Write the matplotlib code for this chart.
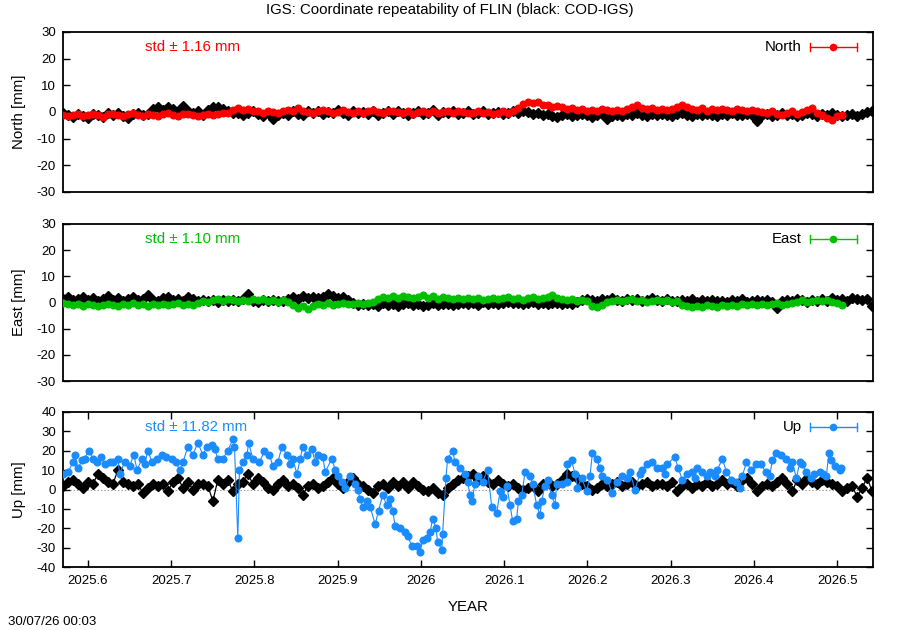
import numpy as np
import matplotlib
matplotlib.use("Agg")
import matplotlib.pyplot as plt

plt.rcParams['font.family'] = ['Liberation Sans', 'DejaVu Sans']

# ---------------- data ----------------
T0 = 2025.570          # first epoch (decimal year)
STEP = 0.006           # sampling of the regular series (years)

north_ref = [-0.5, -1.2, -2.0, -0.8, -1.5, -2.2, -0.6, -1.0, -1.8, -0.3,
             -1.0, -0.5, -1.6, -2.3, -0.8, -0.2, -1.2, -0.6, 1.0, 1.8,
             0.8, 2.0, 1.2, 0.3, 2.2, 0.5, -0.5, 0.2, -1.0, 0.6,
             1.8, 2.0, 1.2, 0.5, -0.5, -0.2, -1.3, -0.5, 0.3, -0.8,
             -1.5, -0.4, -2.8, -1.0, -0.3, -1.2, 0.2, -0.6, -1.0, 0.4,
             -0.3, 0.2, -0.8, 0.0, -0.5, 0.6, -0.2, -1.0, 0.3, -0.4,
             0.0, -0.8, 0.4, -1.0, -0.3, 0.2, -0.6, 0.5, -0.2, -1.2,
             -0.4, 0.3, -0.8, -0.2, 0.6, -1.0, 0.0, -0.5, 0.4, -0.8,
             -0.3, 0.2, -0.6, -0.2, 0.3, -0.8, -0.4, 0.0, -0.7, -0.3,
             0.2, -0.5, 0.4, 0.0, -0.8, -0.3, -1.0, -0.6, -1.4, -2.0,
             -1.2, -0.8, -1.5, -1.0, -0.6, -1.3, -1.8, -1.0, -0.7, -2.5,
             -1.4, -1.0, -1.6, -0.8, -1.2, -0.5, -1.0, -1.5, -0.9, -1.3,
             -0.7, -1.2, -1.6, -0.9, -0.5, -1.1, -1.4, -0.8, -1.2, -0.6,
             -1.0, -1.5, -0.7, -1.1, -0.4, -1.0, -1.3, -0.6, -1.1, -3.2,
             -1.2, -0.8, -1.5, -1.0, -0.5, -1.3, -0.8, -1.6, -1.0, -0.4,
             -0.9, -1.4, -0.6, -1.2, -0.5, -1.0, -1.6, -1.2, -0.8, -1.4,
             -0.6, 0.0, 0.5]

north_val = [-1.0, -1.6, -1.3, -0.8, -1.5, -1.1, -0.6, -1.2, -1.7, -0.9,
             -0.6, -1.1, -1.5, -0.8, -0.4, -1.0, -1.4, -0.7, -1.0, -1.6,
             -0.9, -0.5, -1.2, -1.4, -0.8, -0.6, -1.1, -1.5, -1.0, -0.7,
             -1.2, -0.9, -0.5, -0.2, 0.8, 1.5, 0.9, 1.3, 0.5,
             0.2, -0.3, 0.4, 0.0, -0.5, 0.3, 0.6, 0.2, 1.6,
             0.5, 0.0, -0.3, 0.4, 0.8, 0.2, -0.4, 0.1, 0.6, 0.0,
             -0.5, 0.2, -0.2, 0.3, 0.6, -0.1, -0.4, 0.2, 0.5, 0.0,
             -0.3, 0.2, -0.6, 0.0, 0.4, -0.2, 0.3, -0.5, 0.1, 0.5,
             -0.2, 0.3, 0.0, -0.3,
             -0.3, 0.2, -0.5, 0.0, -0.8, -0.2, 0.3, -0.4, 0.5, 1.5,
             3.0, 3.8, 3.5, 3.9, 2.5, 2.8, 2.0, 2.4,
             1.8, 1.2, 1.6, 0.8, 1.3, 0.5, 0.9, 0.4, 1.1, 0.6,
             0.2, 0.8, 0.4, 1.2, 2.0, 2.8, 1.5, 1.0, 1.4, 0.7,
             1.2, 0.6, 1.0, 2.0, 2.6, 1.8, 1.2, 0.8, 1.4, 0.5,
             1.0, 0.6, 1.3, 0.9, 0.4, 1.1, 0.7, 0.2, 0.9, 0.5,
             0.1, -0.5, 0.3, -0.8, -1.0, -0.2, 0.5, -0.6, 0.0, 0.8,
             1.5, -0.3, -1.0, -2.2, -3.0, -1.5, -1.0]

east_ref = [1.2, 2.0, 0.8, 1.5, 2.2, 1.0, 1.8, 0.6, 1.4, 2.5,
            1.0, 1.6, 0.5, 1.2, 2.0, 0.9, 1.5, 2.8, 1.1, 0.7,
            1.6, 2.2, 1.0, 1.4, 0.6, 2.0, 1.2, 0.4, 1.0, 0.6,
            0.8, 0.3, 1.0, 0.5, 0.9, 0.4, 1.2, 3.2, 0.6, 0.2,
            0.8, 0.4, 1.0, 0.5, 0.7, 1.2, 2.0, 1.5, 2.4, 1.8,
            2.2, 1.6, 2.0, 3.4, 2.5, 1.8, 2.2, 1.0, -0.3, -0.8,
            -0.4, -1.0, -0.6, -1.3, -0.2, -0.9, -0.5, -1.2, -0.7, -0.3,
            -1.0, -0.6, -1.4, -0.8, -0.3, -1.1, -0.7, -0.5, -1.0, -0.4,
            0.0, -0.5, -0.2, -0.8, 0.2, -0.4, 0.0, -0.6, -0.2, 0.3,
            -0.3, 0.0, -0.6, -0.2, 0.2, -0.5, -0.1, -0.7, 0.0, -0.3,
            -0.6, 0.0, -0.4, 0.3, 0.8, 1.5, 1.0, 0.6, 1.2, 0.8,
            1.6, 1.0, 0.5, 1.2, 0.8, 1.4, 0.6, 1.0, 1.7, 0.9,
            0.5, 1.2, 0.7, 0.4, 1.0, 0.6, 1.5, 0.3, 0.8, 0.5,
            1.0, 0.4, 0.7, 0.2, 0.9, 0.5, 1.2, 0.3, 0.6, 1.0,
            0.4, 0.8, 0.2, -2.0, 0.5, 1.0, 0.6, 1.4, 0.8, 0.3,
            1.0, 0.6, 1.2, 0.5, 1.6, 0.9, 1.3, 0.7, 1.8, 1.2,
            0.8, 1.5, -1.2]

east_val = [0.0, -0.5, -1.0, -0.7, -1.2, -0.4, -0.9, -1.4, -0.8, -0.5,
            -1.1, -1.5, -0.6, -0.9, -0.3, -1.0, -0.7, -1.3, -0.5, -0.8,
            -0.4, -1.0, -0.6, -0.2, -0.8, -0.5, -0.9, -0.3, 0.5, 0.2,
            0.8, 1.2, 0.5, 1.5, 0.9, 0.4, 1.1, 0.7, 1.4, 0.8,
            1.2, 0.6, 1.0, 0.3, 0.8, 0.1, -1.0, -2.2, -1.5, -2.6,
            -1.2, -0.6, -0.9, -0.3, -0.8, -0.5, -0.2, -0.7, -0.4, 0.0,
            -0.5, -0.2, 0.3, 1.5, 2.0, 1.6, 2.3, 1.8, 2.5, 2.0,
            1.6, 2.2, 2.7, 1.9, 2.4, 1.5, 2.1, 1.7, 1.3, 1.8,
            1.4, 1.9, 1.2, 1.6, 1.0, 1.5, 1.8, 1.2, 1.6, 2.2,
            1.5, 1.8, 1.1, 1.6, 2.0, 1.3, 1.7, 2.2, 3.0, 1.8,
            1.2, 0.8, 1.3, 0.6, 1.0, 0.4, -1.2, -1.8, -1.0, 0.2,
            0.6, 1.0, 0.4, 0.8, 1.2, 0.5, 0.9, 0.3, 0.7, 1.1,
            0.5, 0.8, 0.2, 0.6, -0.8, -1.3, -1.8, -1.2, -1.6, -1.0,
            -1.4, -1.9, -1.1, -1.5, -0.8, -1.2, -0.6, -1.0, -0.5, -0.9,
            -0.4, -1.1, -0.7, -0.3, -0.9, -0.5, -0.2, 0.3, 0.8, 0.2,
            0.6, 1.0, 0.4, 0.8, 0.2, -0.3, -0.8]

up_ref = [2, 4, 5, 3, 1, 4, 3, 8, 6, 4,
          3, 10, 4, 3, 2, 3, -2, 1, 3, 2,
          3, -1, 4, 6, 1, 4, 0, 3, 3, 2,
          -6, 5, 3, 5, -1, 3, 4, 8, 3, 6,
          4, 1, 0, 3, 5, 2, 3, 1, -3, 2,
          3, 1, 2, 4, 6, 3, 1, 4, 6, 3,
          2, 0, -2, 2, 3, 1, 4, 2, 4, 1,
          4, 2, 0, -1, 1, -2, -3, 1, 3, 5,
          6, 7, 8, 5, 7, 4, 3, 5, 3, 2,
          3, 1, 0, 1, 2, -1, 3, 4, 2, 3,
          5, 8, 7, 6, 3, 2, 0, 1, 3, 2,
          3, 4, 2, 3, 4, 2, 3, 4, 2, 3,
          3, 2, 4, -1, 2, 3, 1, 3, 2, 4,
          2, 3, 5, 3, 4, 2, 5, 6, 3, -1,
          2, 3, 2, 4, 6, 3, -1, 5, 3, 6,
          4, 3, 5, 4, 3, 2, -1, 1, 2, -4,
          1, 6, -1]

up_t = [2025.570, 2025.576, 2025.582, 2025.584, 2025.588, 2025.593, 2025.596, 2025.601,
        2025.606, 2025.611, 2025.616, 2025.620, 2025.626, 2025.630, 2025.636, 2025.638,
        2025.644, 2025.650, 2025.655, 2025.659, 2025.665, 2025.668, 2025.672, 2025.677,
        2025.683, 2025.689, 2025.694, 2025.701, 2025.706, 2025.710, 2025.714, 2025.720,
        2025.726, 2025.732, 2025.738, 2025.743, 2025.749, 2025.752, 2025.756, 2025.762,
        2025.768, 2025.774, 2025.776, 2025.780, 2025.782, 2025.786, 2025.791, 2025.793,
        2025.798, 2025.806, 2025.812, 2025.818, 2025.822, 2025.828, 2025.833, 2025.839,
        2025.843, 2025.846, 2025.851, 2025.855, 2025.858, 2025.863, 2025.869, 2025.873,
        2025.876, 2025.882, 2025.885, 2025.893, 2025.897, 2025.900, 2025.905, 2025.909,
        2025.915, 2025.921, 2025.924, 2025.927, 2025.930, 2025.935, 2025.939, 2025.945,
        2025.949, 2025.954, 2025.959, 2025.963, 2025.966, 2025.969, 2025.975, 2025.981,
        2025.984, 2025.989, 2025.995, 2025.999, 2026.002, 2026.007, 2026.011, 2026.014,
        2026.018, 2026.020, 2026.025, 2026.026, 2026.030, 2026.032, 2026.038, 2026.041,
        2026.047, 2026.053, 2026.056, 2026.059, 2026.061, 2026.065, 2026.068, 2026.074,
        2026.080, 2026.085, 2026.091, 2026.095, 2026.098, 2026.103, 2026.107, 2026.110,
        2026.115, 2026.117, 2026.121, 2026.125, 2026.131, 2026.134, 2026.139, 2026.143,
        2026.145, 2026.149, 2026.152, 2026.157, 2026.161, 2026.163, 2026.169, 2026.175,
        2026.176, 2026.181, 2026.185, 2026.188, 2026.193, 2026.199, 2026.203, 2026.206,
        2026.211, 2026.215, 2026.218, 2026.224, 2026.230, 2026.235, 2026.241, 2026.247,
        2026.251, 2026.257, 2026.263, 2026.266, 2026.272, 2026.278, 2026.284, 2026.289,
        2026.293, 2026.296, 2026.305, 2026.309, 2026.314, 2026.319, 2026.325, 2026.329,
        2026.332, 2026.337, 2026.343, 2026.347, 2026.353, 2026.356, 2026.362, 2026.367,
        2026.373, 2026.379, 2026.383, 2026.386, 2026.391, 2026.397, 2026.403, 2026.409,
        2026.414, 2026.419, 2026.422, 2026.427, 2026.433, 2026.439, 2026.443, 2026.446,
        2026.451, 2026.455, 2026.458, 2026.463, 2026.469, 2026.472, 2026.479, 2026.483,
        2026.487, 2026.490, 2026.493, 2026.497, 2026.503, 2026.505]

up_val = [8, 9, 14, 18, 11, 15, 16, 20,
          16, 14, 17, 13, 14, 14, 16, 8,
          14, 12, 18, 10, 16, 13, 20, 14,
          16, 18, 17, 16, 14, 10, 14, 22,
          18, 24, 18, 22, 23, 21, 16, 16,
          20, 26, 22, -25, 10, 14, 18, 24,
          16, 14, 20, 18, 12, 14, 22, 18,
          13, 16, 8, 16, 22, 18, 21, 14,
          18, 17, 9, 16, 10, 7, 4, 1,
          7, 3, 0, -5, -9, -6, -9, -18,
          -11, -3, -8, -5, -11, -19, -20, -22,
          -24, -29, -29, -32, -26, -25, -22, -15,
          -20, -27, -31, -23, 6, 16, 20, 14,
          11, 8, 4, -3, -6, 3, 7, 4,
          10, -9, -12, -1, -4, 2, -8, -16,
          -15, -6, -3, 9, 7, 3, -8, -13,
          -6, 2, 5, -3, -8, 3, 3, 4,
          13, 15, 8, 1, 6, -1, 7, 19,
          16, 11, 7, 5, -2, 4, 7, 6,
          9, 0, 8, 10, 13, 14, 11, 11,
          8, 13, 17, 11, 5, 8, 9, 6,
          11, 9, 7, 9, 7, 10, 16, 9,
          5, 4, 1, 7, 14, 10, 13, 13,
          9, 7, 15, 19, 18, 16, 11, 14,
          6, 14, 13, 9, 6, 8, 9, 8,
          7, 19, 15, 12, 10, 11]

panels = [
    dict(name="North", ref=north_ref, val=north_val, color="#ff0000",
         std="std \u00b1 1.16 mm", ylim=(-30, 30), yticks=[-30, -20, -10, 0, 10, 20, 30]),
    dict(name="East", ref=east_ref, val=east_val, color="#00c000",
         std="std \u00b1 1.10 mm", ylim=(-30, 30), yticks=[-30, -20, -10, 0, 10, 20, 30]),
    dict(name="Up", ref=up_ref, val=up_val, color="#1a8cff", t=up_t,
         std="std \u00b1 11.82 mm", ylim=(-40, 40), yticks=[-40, -30, -20, -10, 0, 10, 20, 30, 40]),
]

xticks = [2025.6, 2025.7, 2025.8, 2025.9, 2026.0, 2026.1, 2026.2, 2026.3, 2026.4, 2026.5]
xticklabels = ["2025.6", "2025.7", "2025.8", "2025.9", "2026", "2026.1", "2026.2",
               "2026.3", "2026.4", "2026.5"]
xlim = (2025.570, 2026.543)

# ---------------- figure ----------------
fig = plt.figure(figsize=(9, 6.3), dpi=100)
positions = [
    [63 / 900, 1 - 192 / 630, 810 / 900, 160 / 630],
    [63 / 900, 1 - 381 / 630, 810 / 900, 157 / 630],
    [63 / 900, 1 - 567 / 630, 810 / 900, 155 / 630],
]
FS = 9.5
FS2 = 10.8

for k, (p, pos) in enumerate(zip(panels, positions)):
    ax = fig.add_axes(pos)
    ref = np.array(p["ref"], dtype=float)
    val = np.array(p["val"], dtype=float)
    t_ref = T0 + STEP * np.arange(len(ref))
    t_val = np.array(p["t"]) if "t" in p else T0 + STEP * np.arange(len(val))

    ax.axhline(0, color="#999999", lw=0.7, ls=(0, (1.5, 2)), zorder=1)
    ax.plot(t_ref, ref, color="black", lw=0.9, marker="D", ms=4.6, mec="black",
            mfc="black", zorder=2)
    ax.plot(t_val, val, color=p["color"], lw=0.8, marker="o", ms=4.8,
            mec=p["color"], mfc=p["color"], zorder=3)

    ax.set_xlim(*xlim)
    ax.set_ylim(*p["ylim"])
    ax.set_yticks(p["yticks"])
    ax.set_yticklabels([str(v) for v in p["yticks"]], fontsize=FS)
    ax.set_ylabel(f"{p['name']} [mm]", fontsize=FS2, labelpad=8)
    for s in ax.spines.values():
        s.set_linewidth(1.3)
    ax.tick_params(axis="y", direction="in", length=5, width=1, left=True, right=True,
                   labelsize=FS, pad=5)
    if k < 2:
        ax.set_xticks([])
    else:
        ax.set_xticks(xticks)
        ax.set_xticklabels(xticklabels, fontsize=FS)
        ax.tick_params(axis="x", direction="in", length=5, width=1, top=True,
                       bottom=True, labelsize=FS, pad=6)
        ax.set_xlabel("YEAR", fontsize=FS2, labelpad=9)

    # std annotation
    ax.text(0.101, 0.905, p["std"], transform=ax.transAxes, color=p["color"],
            fontsize=FS2, va="center", ha="left")
    # legend-like key (gnuplot style)
    ax.text(0.912, 0.905, p["name"], transform=ax.transAxes, color="black",
            fontsize=FS2, va="center", ha="right")
    ax.plot([0.922, 0.980], [0.905, 0.905], transform=ax.transAxes,
            color=p["color"], lw=1.0, clip_on=False, zorder=5)
    for xe in (0.922, 0.980):
        ax.plot([xe, xe], [0.88, 0.93], transform=ax.transAxes,
                color=p["color"], lw=1.0, clip_on=False, zorder=5)
    ax.plot([0.951], [0.905], transform=ax.transAxes, marker="o", ms=4.5,
            color=p["color"], clip_on=False, zorder=5)

fig.text(0.5, 1 - 10 / 630, "IGS: Coordinate repeatability of FLIN (black: COD-IGS)",
         ha="center", va="center", fontsize=FS2)
fig.text(8 / 900, 1 - 622 / 630, "30/07/26 00:03", ha="left", va="center", fontsize=FS)

fig.savefig("out.png", dpi=100)
